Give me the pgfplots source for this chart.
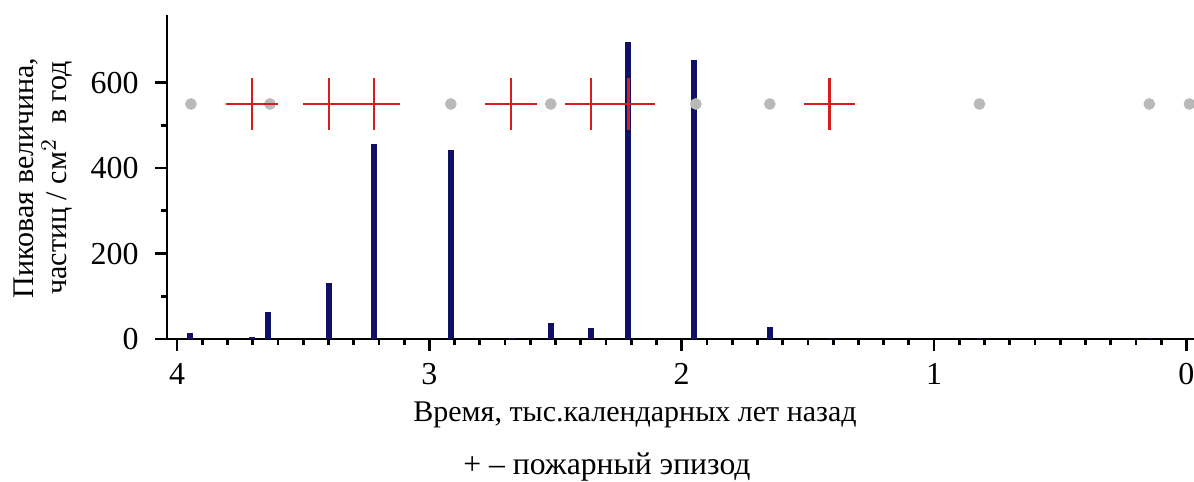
\documentclass[border=0pt]{standalone}
\usepackage{pgfplots}
\pgfplotsset{compat=1.18}
\usepackage{fontspec}
\setmainfont{Liberation Serif}
\usetikzlibrary{calc}
\definecolor{barc}{RGB}{16,16,100}
\definecolor{dotc}{RGB}{185,185,185}
\definecolor{plusc}{RGB}{215,30,30}
\begin{document}
\begin{tikzpicture}[font=\fontsize{10.8pt}{12.6pt}\selectfont]
\begin{axis}[
  scale only axis,
  width=369.7pt, height=116.6pt,
  x dir=reverse,
  xmin=-0.03, xmax=4.04,
  ymin=0, ymax=758,
  axis x line=bottom, axis y line=left,
  axis line style={line width=1pt,-},
  xtick={0,1,2,3,4}, ytick={0,200,400,600},
  minor x tick num=9, minor y tick num=1,
  tick align=outside,
  major tick length=4.2pt, minor tick length=2.2pt,
  tick style={line width=1pt,black},
  /pgf/number format/assume math mode=true,
  ticklabel style={font=\fontsize{11.5pt}{13pt}\selectfont},
  yticklabel style={xshift=-2.5pt},
  xticklabel style={yshift=-1pt},
  clip=false,
]
\addplot[ycomb, line width=2pt, color=barc, mark=none] coordinates {
 (3.949,15) (3.703,4) (3.640,64) (3.398,131) (3.220,456) (2.915,443)
 (2.673,2) (2.519,38) (2.360,26) (2.214,695) (1.952,653) (1.651,28)
 (1.406,2) (0.820,2) (0.143,2)
};
\addplot[only marks, mark=*, mark size=1.9pt, color=dotc] coordinates {
 (3.945,550) (3.632,550) (2.915,550) (2.519,550) (1.944,550) (1.651,550)
 (0.820,550) (0.147,550) (-0.012,550)
};
\addplot[only marks, mark=+, mark size=9.3pt, color=plusc, mark options={line width=1pt}] coordinates {
 (3.703,550) (3.398,550) (3.220,550) (2.677,550) (2.360,550) (2.210,550) (1.414,550)
};
\end{axis}
\coordinate (O) at ($(current axis.south west)+(-60.12pt,122.04pt)$);
\pgfresetboundingbox
\path[use as bounding box] (O) rectangle ++(429.84pt,-173.52pt);
\node[rotate=90, align=center, inner sep=0pt, font=\fontsize{10.8pt}{12.2pt}\selectfont] at ($(O)+(15.5pt,-64pt)$) {Пиковая величина,\\частиц / см$^2$\ \ в год};
\node[inner sep=0pt, font=\fontsize{10.8pt}{13pt}\selectfont] at ($(O)+(228.6pt,-149.4pt)$) {Время, тыс.календарных лет назад};
\node[inner sep=0pt, font=\fontsize{11.4pt}{13pt}\selectfont] at ($(O)+(218.5pt,-168.1pt)$) {+ – пожарный эпизод};
\end{tikzpicture}
\end{document}
